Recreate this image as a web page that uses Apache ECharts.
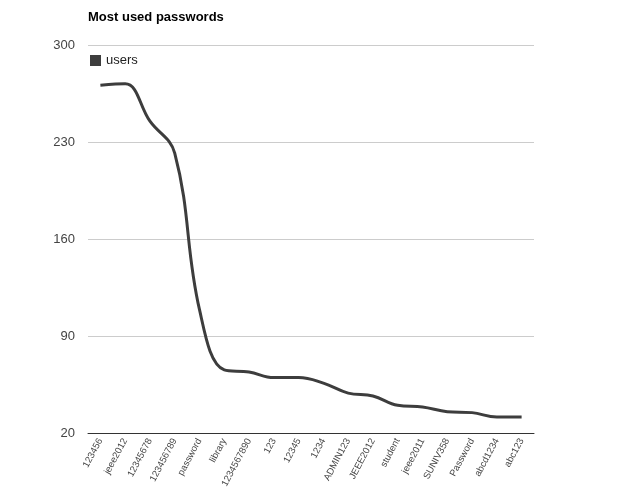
<!DOCTYPE html>
<html>
<head>
<meta charset="utf-8">
<script src="https://cdn.jsdelivr.net/npm/echarts@6/dist/echarts.min.js"></script>
<style>html,body{margin:0;padding:0;background:#fff}#c{width:640px;height:487px}</style>
</head>
<body>
<div id="c"></div>
<script>
const categories = ["123456","jeee2012","12345678","123456789","password","library","1234567890","123","12345","1234","ADMIN123","JEEE2012","student","jeee2011","SUNIV358","Password","abcd1234","abc123"];
const users = [271, 272, 245, 222, 109, 65.5, 64, 60, 60, 56, 48.8, 46.7, 40, 38.8, 35.4, 34.7, 31.5, 31.5];
const yTicks = {min: 20, max: 300, interval: 70};

const chart = echarts.init(document.getElementById('c'));
chart.setOption({
  animation: false,
  title: {
    text: 'Most used passwords',
    left: 83, top: 6,
    textStyle: {fontFamily: 'Arial, Liberation Sans, sans-serif', fontSize: 13, fontWeight: 'bold', color: '#000'}
  },
  legend: {
    data: ['users'],
    left: 85, top: 49,
    icon: 'rect', itemWidth: 11, itemHeight: 11, itemGap: 6,
    textStyle: {fontFamily: 'Arial, Liberation Sans, sans-serif', fontSize: 13, color: '#222'}
  },
  grid: {left: 88, right: 106, top: 45, bottom: 54, containLabel: false, outerBoundsMode: 'none'},
  xAxis: {
    type: 'category',
    data: categories,
    boundaryGap: true,
    axisLine: {lineStyle: {color: '#333', width: 1}},
    axisTick: {show: false},
    axisLabel: {rotate: 62, interval: 0, fontSize: 9.5, color: '#444', fontFamily: 'Arial, Liberation Sans, sans-serif', margin: 6}
  },
  yAxis: {
    type: 'value',
    min: yTicks.min, max: yTicks.max, interval: yTicks.interval,
    axisLine: {show: false},
    axisTick: {show: false},
    splitLine: {lineStyle: {color: '#ccc', width: 1}},
    axisLabel: {fontSize: 13, color: '#444', fontFamily: 'Arial, Liberation Sans, sans-serif', margin: 13}
  },
  series: [{
    name: 'users',
    type: 'line',
    data: users,
    smooth: 0.4,
    symbol: 'none',
    lineStyle: {color: '#3d3d3d', width: 3},
    itemStyle: {color: '#3d3d3d'}
  }]
});
</script>
</body>
</html>
